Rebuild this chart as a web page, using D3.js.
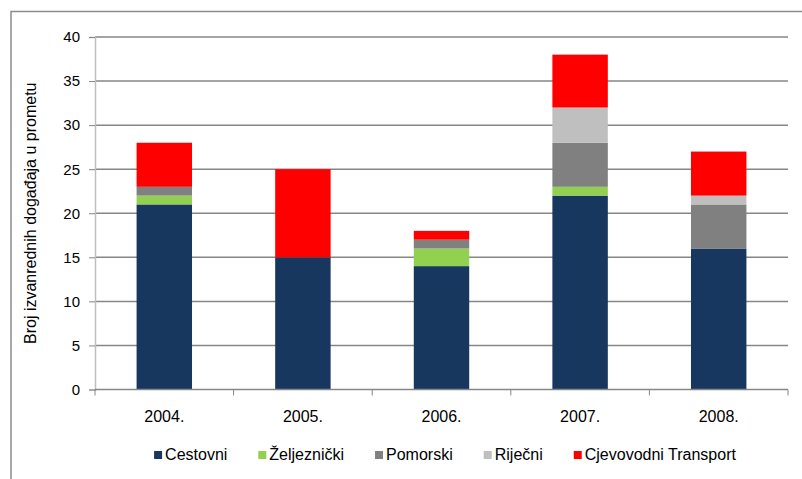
<!DOCTYPE html>
<html>
<head>
<meta charset="utf-8">
<script src="https://cdn.jsdelivr.net/npm/d3@7"></script>
<style>
  html, body { margin: 0; padding: 0; background: #fff; }
  svg { display: block; }
  text { font-family: "Liberation Sans", Arial, sans-serif; fill: #000; }
</style>
</head>
<body>
<svg id="chart" width="802" height="479"></svg>
<script>
const years = ["2004.", "2005.", "2006.", "2007.", "2008."];
const seriesNames = ["Cestovni", "Željeznički", "Pomorski", "Riječni", "Cjevovodni Transport"];
const cestovni    = [21, 15, 14, 22, 16];
const zeljeznicki = [1, 0, 2, 1, 0];
const pomorski    = [1, 0, 1, 5, 5];
const rijecni     = [0, 0, 0, 4, 1];
const cjevovodni  = [5, 10, 1, 6, 5];
const yTicks = [0, 5, 10, 15, 20, 25, 30, 35, 40];
const yTitle = "Broj izvanrednih događaja u prometu";
const colors = ["#17375e", "#92d050", "#808080", "#bfbfbf", "#ff0000"];

const seriesValues = [cestovni, zeljeznicki, pomorski, rijecni, cjevovodni];
const table = years.map((y, i) => {
  const row = { year: y };
  seriesNames.forEach((s, k) => row[s] = seriesValues[k][i]);
  return row;
});

const svg = d3.select("#chart");
const margin = { left: 95, right: 14, top: 37, bottom: 89.5 };
const W = 802, H = 479;
const x0 = margin.left, x1 = W - margin.right;
const yBottom = H - margin.bottom, yTop = margin.top;

// outer border (only left and top visible)
svg.append("rect")
  .attr("x", 11).attr("y", 11.5)
  .attr("width", 820).attr("height", 500)
  .attr("fill", "none").attr("stroke", "#8c8c8c").attr("stroke-width", 1.5);

const x = d3.scaleBand().domain(years).range([x0, x1]).paddingInner(0).paddingOuter(0);
const y = d3.scaleLinear().domain([0, 40]).range([yBottom, yTop]);

// gridlines
svg.append("g").selectAll("line").data(yTicks.filter(t => t > 0)).join("line")
  .attr("x1", x0).attr("x2", x1)
  .attr("y1", d => y(d)).attr("y2", d => y(d))
  .attr("stroke", "#868686").attr("stroke-width", 1.5);

// stacked bars
const stack = d3.stack().keys(seriesNames);
const stacked = stack(table);
const barW = x.bandwidth() / 2.5;
svg.append("g").selectAll("g").data(stacked).join("g")
  .attr("fill", (d, i) => colors[i])
  .selectAll("rect").data(d => d).join("rect")
  .attr("x", d => x(d.data.year) + (x.bandwidth() - barW) / 2)
  .attr("width", barW)
  .attr("y", d => y(d[1]))
  .attr("height", d => y(d[0]) - y(d[1]));

// y axis
const yAxis = d3.axisLeft(y).tickValues(yTicks).tickSize(6).tickPadding(9).tickFormat(d3.format("d"));
const gy = svg.append("g").attr("transform", `translate(${x0},0)`).call(yAxis);
gy.select(".domain").attr("stroke", "#bfbfbf").attr("stroke-width", 1.5);
gy.selectAll(".tick line").attr("stroke", "#868686");
gy.selectAll(".tick text").style("font-size", "15px").attr("fill", "#000");

// x axis
const xAxis = d3.axisBottom(x).tickSize(0).tickPadding(21);
const gx = svg.append("g").attr("transform", `translate(0,${yBottom})`).call(xAxis);
gx.select(".domain").remove();
gx.selectAll(".tick text").style("font-size", "16px").attr("fill", "#000");
svg.append("line").attr("x1", x0).attr("x2", x1).attr("y1", yBottom).attr("y2", yBottom)
  .attr("stroke", "#868686").attr("stroke-width", 1.5);
// category boundary ticks
const bounds = years.map(d => x(d)).concat([x1]);
svg.append("g").selectAll("line").data(bounds).join("line")
  .attr("x1", d => d).attr("x2", d => d)
  .attr("y1", yBottom).attr("y2", yBottom + 6)
  .attr("stroke", "#868686").attr("stroke-width", 1);

// y title
svg.append("text")
  .attr("transform", `translate(36,${(yTop + yBottom) / 2}) rotate(-90)`)
  .attr("text-anchor", "middle")
  .style("font-size", "16px")
  .text(yTitle);

// legend
const lg = svg.append("g");
const items = lg.selectAll("g").data(seriesNames).join("g");
items.append("rect").attr("width", 8).attr("height", 8).attr("y", -9).attr("fill", (d, i) => colors[i]);
items.append("text").attr("x", 11).style("font-size", "16px").text(d => d);
let cx = 0;
items.each(function() {
  const g = d3.select(this);
  g.attr("transform", `translate(${cx},0)`);
  const tw = g.select("text").node().getComputedTextLength();
  this._w = 11 + tw;
  cx += 11 + tw + 31;
});
const totalW = cx - 31;
lg.attr("transform", `translate(${445 - totalW / 2},460)`);
</script>
</body>
</html>
